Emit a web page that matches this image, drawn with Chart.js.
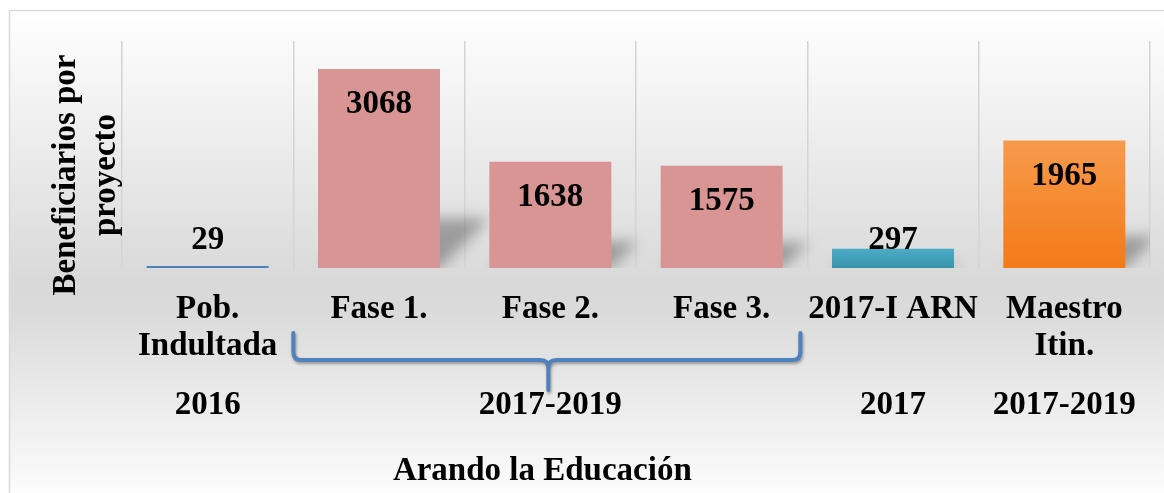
<!DOCTYPE html>
<html><head><meta charset="utf-8">
<script src="https://cdn.jsdelivr.net/npm/chart.js@4.4.1/dist/chart.umd.min.js"></script>
<style>html,body{margin:0;padding:0;background:#fff}#wrap{width:1164px;height:493px;position:relative}</style>
</head><body><div id="wrap"><canvas id="c" width="1164" height="493"></canvas></div>
<script>
// ---- data ----
const categories = [['Pob.', 'Indultada'], ['Fase 1.'], ['Fase 2.'], ['Fase 3.'], ['2017-I ARN'], ['Maestro', 'Itin.']];
const periods = ['2016', '', '2017-2019', '', '2017', '2017-2019'];
const beneficiaries = [29, 3068, 1638, 1575, 297, 1965];
const yTitleLines = ['Beneficiarios por', 'proyecto'];
const chartTitle = 'Arando la Educación';
const yMax = 3500;

// ---- styles ----
const FONT = '"Liberation Serif", "Times New Roman", serif';
const fontSpec = { family: FONT, size: 33, weight: 'bold', lineHeight: 37 / 33 };
const PINK = '#d99594';
const gradStops = [
  ['#4f81bd', '#4f81bd'],
  [PINK, PINK], [PINK, PINK], [PINK, PINK],
  ['#4bacc6', '#3a93ab'],
  ['#f79a4c', '#f47a17']
];

function barColor(ctx) {
  const chart = ctx.chart;
  const i = ctx.dataIndex;
  const s = gradStops[i];
  if (!chart.chartArea || s[0] === s[1]) return s[0];
  const ys = chart.scales.y;
  const top = ys.getPixelForValue(beneficiaries[i]);
  const bot = ys.getPixelForValue(0);
  const g = chart.ctx.createLinearGradient(0, top, 0, bot);
  g.addColorStop(0, s[0]);
  g.addColorStop(1, s[1]);
  return g;
}

const backgroundPlugin = {
  id: 'bg',
  beforeDraw(chart) {
    const c = chart.ctx;
    c.save();
    c.fillStyle = '#ffffff';
    c.fillRect(0, 0, chart.width, chart.height);
    const g = c.createLinearGradient(0, 11, 0, chart.height);
    g.addColorStop(0, '#ffffff');
    g.addColorStop(0.56, '#d9d9d9');
    g.addColorStop(0.62, '#dadada');
    g.addColorStop(1, '#fcfcfc');
    c.fillStyle = g;
    c.fillRect(10, 11, chart.width, chart.height);
    c.strokeStyle = '#d9d9d9';
    c.lineWidth = 1.5;
    c.beginPath();
    c.moveTo(9.5, chart.height + 2);
    c.lineTo(9.5, 10.5);
    c.lineTo(chart.width + 2, 10.5);
    c.stroke();
    c.restore();
  }
};

const shadowPlugin = {
  id: 'barShadow',
  beforeDatasetsDraw(chart) {
    const c = chart.ctx;
    const a = chart.chartArea;
    const meta = chart.getDatasetMeta(0);
    c.save();
    c.beginPath();
    c.rect(a.left, a.top, a.right - a.left, a.bottom - a.top);
    c.clip();
    c.filter = 'blur(7px)';
    c.fillStyle = 'rgba(0,0,0,0.30)';
    meta.data.forEach(bar => {
      const h = bar.base - bar.y;
      if (h < 8) return;
      const half = bar.width / 2;
      const k = 0.25 * h;
      c.beginPath();
      c.moveTo(bar.x - half + 4, bar.base);
      c.lineTo(bar.x + half, bar.base);
      c.lineTo(bar.x + half + k, bar.base - k);
      c.lineTo(bar.x - half + k, bar.base - k);
      c.closePath();
      c.fill();
    });
    c.restore();
  }
};

const labelPlugin = {
  id: 'valueLabels',
  afterDatasetsDraw(chart) {
    const c = chart.ctx;
    const meta = chart.getDatasetMeta(0);
    c.save();
    c.font = 'bold 33px ' + FONT;
    c.fillStyle = '#000000';
    c.textAlign = 'center';
    c.textBaseline = 'alphabetic';
    meta.data.forEach((bar, i) => {
      const y = Math.min(bar.y + 44, bar.base - 19.5);
      c.fillText(String(beneficiaries[i]), bar.x, y);
    });
    c.restore();
  }
};

const decorPlugin = {
  id: 'decor',
  afterDraw(chart) {
    const c = chart.ctx;
    const xs = chart.scales.x;
    const p = i => xs.getPixelForValue(i);
    // bracket grouping Fase 1-3
    const left = (p(0) + p(1)) / 2;
    const right = (p(3) + p(4)) / 2 - 7;
    const tip = p(2) - 2;
    const t = xs.top;
    const yTop = t + 65, yMid = t + 92, yTip = t + 122, r = 8;
    c.save();
    c.strokeStyle = '#4f81bd';
    c.lineWidth = 4;
    c.lineCap = 'round';
    c.lineJoin = 'round';
    c.shadowColor = 'rgba(0,0,0,0.35)';
    c.shadowBlur = 3;
    c.shadowOffsetX = 1;
    c.shadowOffsetY = 2;
    c.beginPath();
    c.moveTo(left, yTop);
    c.lineTo(left, yMid - r);
    c.quadraticCurveTo(left, yMid, left + r, yMid);
    c.lineTo(tip - r, yMid);
    c.quadraticCurveTo(tip, yMid, tip, yMid + r);
    c.lineTo(tip, yTip);
    c.moveTo(tip, yMid + r);
    c.quadraticCurveTo(tip, yMid, tip + r, yMid);
    c.lineTo(right - r, yMid);
    c.quadraticCurveTo(right, yMid, right, yMid - r);
    c.lineTo(right, yTop);
    c.stroke();
    c.restore();

    // axis titles
    c.save();
    c.font = 'bold 33px ' + FONT;
    c.fillStyle = '#000000';
    c.textAlign = 'center';
    c.textBaseline = 'alphabetic';
    c.fillText(chartTitle, p(2) - 8, 480);
    c.translate(0, 175);
    c.rotate(-Math.PI / 2);
    c.fillText(yTitleLines[0], 0, 75);
    c.fillText(yTitleLines[1], 0, 115);
    c.restore();
  }
};

new Chart(document.getElementById('c'), {
  type: 'bar',
  data: {
    labels: categories,
    datasets: [{
      data: beneficiaries,
      backgroundColor: barColor,
      borderWidth: 0,
      barPercentage: 0.712,
      categoryPercentage: 1
    }]
  },
  options: {
    responsive: false,
    animation: false,
    devicePixelRatio: 1,
    layout: { padding: { left: 122, right: 14, top: 41, bottom: 65 } },
    plugins: { legend: { display: false }, tooltip: { enabled: false }, title: { display: false } },
    scales: {
      y: { display: false, min: 0, max: yMax },
      x: {
        offset: true,
        grid: { offset: true, drawTicks: false, color: '#d4d4d4', lineWidth: 1.5 },
        border: { display: false },
        ticks: { font: fontSpec, color: '#000000', padding: 22.5, maxRotation: 0, autoSkip: false },
        afterFit(s) { s.height = 100; }
      },
      x2: {
        type: 'category',
        position: 'bottom',
        labels: periods,
        offset: true,
        grid: { display: false, drawTicks: false },
        border: { display: false },
        ticks: { font: fontSpec, color: '#000000', padding: 18.5, maxRotation: 0, autoSkip: false },
        afterFit(s) { s.height = 60; }
      }
    }
  },
  plugins: [backgroundPlugin, shadowPlugin, labelPlugin, decorPlugin]
});
</script>
</body></html>
